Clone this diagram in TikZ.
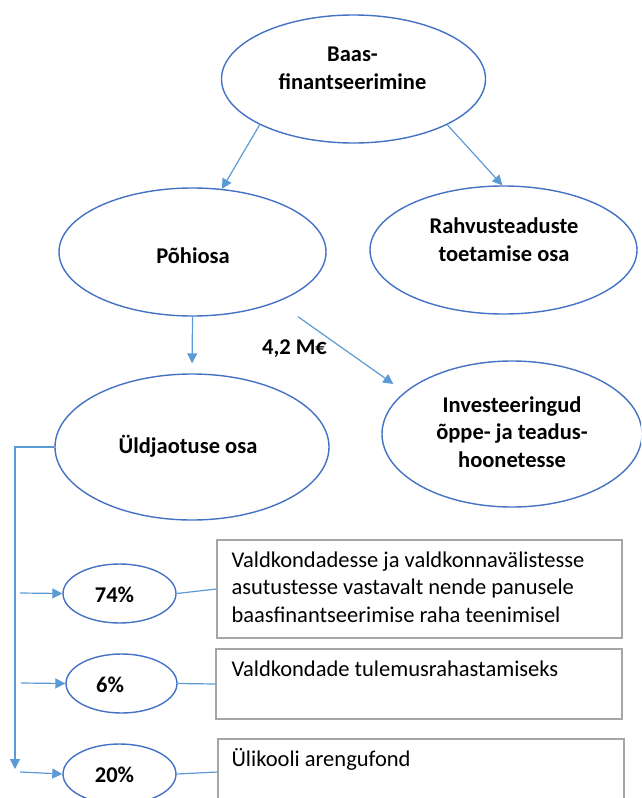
\documentclass[tikz,border=0pt]{standalone}
\usepackage{fontspec}
\setmainfont{Carlito}
\usetikzlibrary{shapes.geometric,arrows.meta,calc}
\definecolor{ellc}{HTML}{4472C4}
\definecolor{arrc}{HTML}{5B9BD5}
\definecolor{boxc}{HTML}{A6A6A6}
\begin{document}
\begin{tikzpicture}[x=1pt,y=-1pt,
  ell/.style={ellipse, draw=ellc, line width=1.4pt, fill=white, inner sep=0pt},
  etxt/.style={font=\fontsize{22.5}{27.5}\selectfont\bfseries, align=center, inner sep=0pt, anchor=base},
  arr/.style={draw=arrc, line width=1.2pt, -{Triangle[length=10pt,width=10pt]}},
  lnk/.style={draw=arrc, line width=1.2pt},
  bx/.style={draw=boxc, line width=1.3pt, inner sep=0pt, fill=white},
  btxt/.style={font=\fontsize{22.5}{27.5}\selectfont, align=left, inner sep=0pt, anchor=base west}]
\path[use as bounding box] (0,0) rectangle (641,798);
\clip (0,0) rectangle (641,798);

% ellipses
\node[ell, minimum width=264pt, minimum height=128pt] (baas) at (353.5,79) {};
\node[ell, minimum width=267pt, minimum height=128pt] (pohi) at (192.5,252) {};
\node[ell, minimum width=267pt, minimum height=128pt] (rahv) at (503.5,250) {};
\node[ell, minimum width=274pt, minimum height=146pt] (uld) at (192,447) {};
\node[ell, minimum width=260pt, minimum height=146pt] (inv) at (512,434) {};
\node[ell, minimum width=113pt, minimum height=59pt] (p74) at (119.5,593.5) {};
\node[ell, minimum width=111pt, minimum height=59pt] (p6) at (121.5,683.5) {};
\node[ell, minimum width=113pt, minimum height=60pt] (p20) at (119.5,774) {};

% ellipse texts (anchor = baseline of last line)
\node[etxt] (tbaas) at (352.5,89) {Baas-\\finantseerimine};
\node[etxt] (tpohi) at (193,263) {Põhiosa};
\node[etxt] (trahv) at (504,261) {Rahvusteaduste\\toetamise osa};
\node[etxt] (tuld) at (188,453) {Üldjaotuse osa};
\node[etxt] (tinv) at (512,467) {Investeeringud\\õppe- ja teadus-\\hoonetesse};
\node[etxt] (t74) at (114.5,602) {74\%};
\node[etxt] (t6) at (110,692) {6\%};
\node[etxt] (t20) at (114.5,782) {20\%};
\node[etxt] (tm) at (294.5,354) {4,2 M€};

% boxes
\node[bx, minimum width=405pt, minimum height=98pt] (box1) at (419.5,589) {};
\node[bx, minimum width=406pt, minimum height=70pt] (box2) at (419,684) {};
\node[bx, minimum width=406pt, minimum height=70pt] (box3) at (421,774) {};
\node[btxt] (tb1) at ([shift={(15,83)}]box1.north west) {Valdkondadesse ja valdkonnavälistesse\\asutustesse vastavalt nende panusele\\baasfinantseerimise raha teenimisel};
\node[btxt] (tb2) at ([shift={(16,28)}]box2.north west) {Valdkondade tulemusrahastamiseks};
\node[btxt] (tb3) at ([shift={(14,28)}]box3.north west) {Ülikooli arengufond};

% connectors
\draw[arr] (baas.206) -- (pohi.65);
\draw[arr] (baas.334) -- (rahv.91);
\draw[arr, shorten >=10pt] (pohi.south) -- (uld.north);
\draw[arr] ([shift={(105.5,0)}]pohi.south) -- ([shift={(12,-50)}]inv.west);

\coordinate (bus) at (15,769);
\draw[arr] (uld.west) -| (bus);
\coordinate (s74) at (20,593);
\coordinate (s6) at (21,683);
\coordinate (s20) at (20,772);
\draw[arr] (s74) -- (p74.west);
\draw[arr] (s6) -- (p6.west);
\draw[arr] (s20) -- (p20.west);

\draw[lnk] (p74.east) -- (box1.west);
\draw[lnk] (p6.east) -- (box2.west);
\draw[lnk] (p20.east) -- ([shift={(0,-2)}]box3.west);
\end{tikzpicture}
\end{document}
